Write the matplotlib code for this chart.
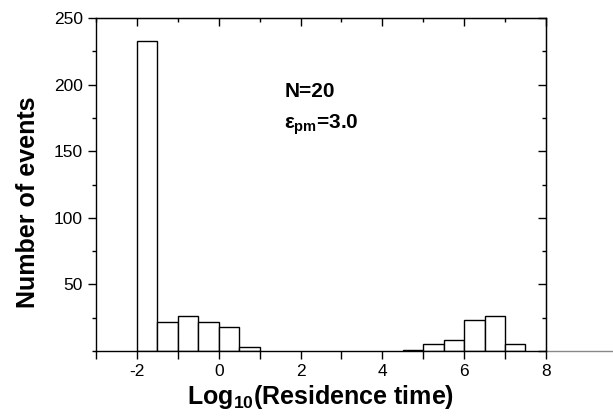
import matplotlib
matplotlib.use("Agg")
import matplotlib.pyplot as plt
from matplotlib.lines import Line2D
from matplotlib.ticker import MultipleLocator

plt.rcParams['font.family'] = ['Liberation Sans', 'DejaVu Sans']
plt.rcParams['axes.unicode_minus'] = False
plt.rcParams['mathtext.fontset'] = 'custom'
plt.rcParams['mathtext.rm'] = 'Liberation Sans:bold'
plt.rcParams['mathtext.bf'] = 'Liberation Sans:bold'
plt.rcParams['mathtext.it'] = 'Liberation Sans:bold'

# histogram of log10 residence times, bin width 0.5
bin_left = [-2.0, -1.5, -1.0, -0.5, 0.0, 0.5, 4.5, 5.0, 5.5, 6.0, 6.5, 7.0]
counts = [233, 22, 26, 22, 18, 3, 1, 5, 8, 23, 26, 5]
bin_width = 0.5

fig = plt.figure(figsize=(6.13, 4.2), dpi=100)
ax = fig.add_axes([0.1566, 0.1643, 0.734, 0.7927])

ax.bar(bin_left, counts, width=bin_width, align='edge',
       facecolor='white', edgecolor='black', linewidth=1.0)

ax.set_xlim(-3, 8)
ax.set_ylim(0, 250)
ax.xaxis.set_major_locator(MultipleLocator(2))
ax.xaxis.set_minor_locator(MultipleLocator(1))
ax.yaxis.set_major_locator(MultipleLocator(50))
ax.yaxis.set_minor_locator(MultipleLocator(25))
ax.set_yticks([50, 100, 150, 200, 250])

for s in ax.spines.values():
    s.set_linewidth(1.0)

ax.tick_params(axis='x', which='both', direction='out', bottom=True, top=False,
               length=6, width=1.0, labelsize=12.5)
ax.tick_params(axis='y', which='major', direction='out', left=True, right=False,
               length=6, width=1.0, labelsize=12.5)
ax.tick_params(axis='y', which='minor', direction='out', left=True, right=False,
               length=3, width=1.0)

# inward ticks on top and right
top = ax.secondary_xaxis('top')
top.xaxis.set_major_locator(MultipleLocator(2))
top.xaxis.set_minor_locator(MultipleLocator(1))
top.tick_params(which='major', direction='in', length=6, width=1.0)
top.tick_params(which='minor', direction='in', length=3, width=1.0)
top.set_xticklabels([])
right = ax.secondary_yaxis('right')
right.yaxis.set_major_locator(MultipleLocator(50))
right.yaxis.set_minor_locator(MultipleLocator(25))
right.tick_params(which='major', direction='in', length=6, width=1.0)
right.tick_params(which='minor', direction='in', length=3, width=1.0)
right.set_yticklabels([])

# bottom axis line continues past the right frame
ax.add_line(Line2D([1.0, 1.16], [0, 0], transform=ax.transAxes,
                   color='#888888', linewidth=1.0, clip_on=False))

ax.set_xlabel('Log$_{10}$(Residence time)', fontsize=18, fontweight='bold', labelpad=3)
ax.set_ylabel('Number of events', fontsize=18, fontweight='bold')
ax.yaxis.set_label_coords(-0.125, 0.447)

ax.text(1.6, 191, 'N=20', fontsize=15, fontweight='bold')
ax.text(1.6, 167, r'$\varepsilon_{pm}$=3.0', fontsize=15, fontweight='bold')

fig.savefig('out.png', dpi=100)
